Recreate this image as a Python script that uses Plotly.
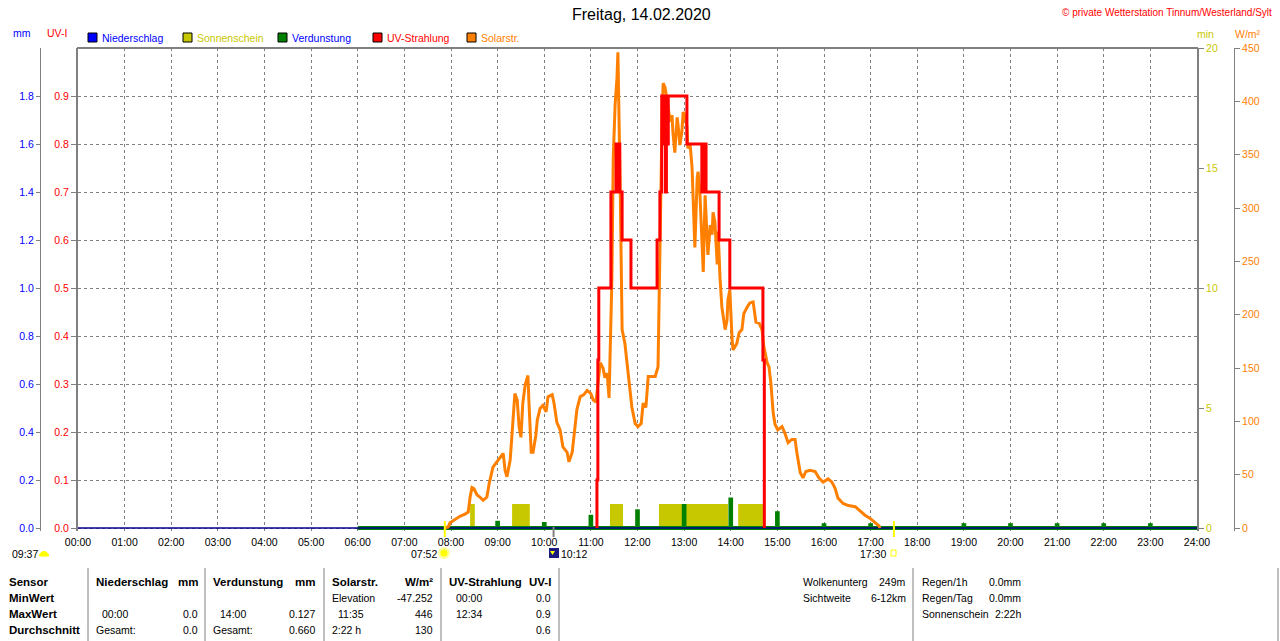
import math
import plotly.graph_objects as go

# ---- data -------------------------------------------------------------
hours = list(range(25))
hour_labels = ["%02d:00" % h for h in hours]

# Sonnenschein (min), sunny intervals in decimal hours
sun_start = [8.41, 9.31, 11.41, 12.46, 14.16]
sun_end = [8.51, 9.69, 11.69, 13.94, 14.69]
sun_min = [1, 1, 1, 1, 1]

# Verdunstung (mm) per hour
evap_hours = [9, 10, 11, 12, 13, 14, 15, 16, 17, 19, 20, 21, 22, 23]
evap_mm = [0.03, 0.025, 0.055, 0.078, 0.1, 0.127, 0.07, 0.02, 0.02, 0.02, 0.02, 0.02, 0.02, 0.02]
evap_period = [6, 24]

# Niederschlag (mm)
rain_t = [0, 24]
rain_mm = [0.0, 0.0]

# Solarstrahlung (W/m2)
solar_t = [7.87, 7.94, 7.98, 8.09, 8.19, 8.30, 8.37, 8.41, 8.45, 8.49, 8.56, 8.62, 8.69, 8.77,
           8.82, 8.90, 8.99, 9.05, 9.12, 9.16, 9.20, 9.27, 9.33, 9.37, 9.42, 9.46, 9.50, 9.54,
           9.59, 9.65, 9.67, 9.72, 9.76, 9.82, 9.85, 9.91, 9.97, 10.04, 10.08, 10.17, 10.21,
           10.27, 10.34, 10.40, 10.49, 10.53, 10.60, 10.64, 10.70, 10.77, 10.85, 10.92, 11.00,
           11.05, 11.11, 11.20, 11.26, 11.30, 11.35, 11.39, 11.45, 11.48, 11.52, 11.56, 11.58,
           11.63, 11.65, 11.67, 11.73, 11.80, 11.88, 11.95, 12.01, 12.08, 12.12, 12.18, 12.23,
           12.31, 12.38, 12.44, 12.48, 12.53, 12.55, 12.59, 12.63, 12.65, 12.70, 12.74, 12.76,
           12.80, 12.85, 12.87, 12.91, 12.95, 12.98, 13.02, 13.06, 13.08, 13.13, 13.17, 13.19,
           13.23, 13.28, 13.30, 13.34, 13.38, 13.41, 13.45, 13.49, 13.51, 13.56, 13.60, 13.62,
           13.66, 13.71, 13.73, 13.77, 13.81, 13.88, 13.92, 13.94, 13.98, 14.03, 14.05, 14.13,
           14.18, 14.24, 14.28, 14.35, 14.41, 14.48, 14.50, 14.54, 14.61, 14.67, 14.71, 14.78,
           14.82, 14.86, 14.91, 14.95, 15.01, 15.10, 15.16, 15.23, 15.31, 15.38, 15.42, 15.49,
           15.55, 15.61, 15.70, 15.81, 15.89, 15.98, 16.09, 16.17, 16.24, 16.30, 16.41, 16.52,
           16.67, 16.77, 16.88, 16.99, 17.09, 17.18, 17.20]
solar_w = [0, 1, 5, 8, 11, 13, 15, 29, 38, 37, 31, 29, 26, 29,
           42, 57, 62, 65, 70, 54, 48, 64, 101, 126, 120, 95, 85, 117,
           134, 143, 120, 71, 71, 87, 101, 112, 115, 109, 123, 125, 117,
           99, 92, 76, 71, 62, 71, 89, 111, 123, 125, 129, 126,
           120, 118, 155, 150, 141, 145, 122, 232, 347, 397, 422, 446,
           315, 218, 186, 173, 142, 113, 98, 95, 98, 117, 113, 142,
           142, 142, 151, 265, 390, 417, 413, 403, 397, 381, 387, 371,
           352, 385, 378, 359, 371, 390, 387, 376, 356, 359, 338, 306,
           263, 328, 334, 312, 275, 240, 312, 265, 256, 284, 275, 296,
           287, 247, 278, 234, 207, 186, 195, 214, 223, 176, 167, 173,
           183, 186, 201, 207, 211, 212, 204, 193, 192, 186, 170, 155,
           151, 136, 108, 97, 92, 95, 89, 80, 83, 83, 70, 52,
           47, 53, 54, 53, 47, 43, 46, 43, 37, 28, 23, 21,
           20, 16, 12, 9, 5, 2, 0]

# UV-Strahlung (UV-I), stepped
uv_t = [11.13, 11.13, 11.15, 11.17, 11.43, 11.54, 11.58, 11.59, 11.62, 11.67, 11.86, 12.42,
        12.48, 12.52, 12.55, 12.57, 12.60, 12.62, 12.64, 12.66, 13.06, 13.38, 13.40, 13.42,
        13.44, 13.47, 13.75, 13.98, 14.69, 14.72]
uv_v = [0, 0.1, 0.35, 0.5, 0.7, 0.8, 0.7, 0.8, 0.7, 0.6, 0.5, 0.6,
        0.7, 0.9, 0.8, 0.9, 0.7, 0.9, 0.8, 0.9, 0.8, 0.7, 0.8, 0.7,
        0.8, 0.7, 0.6, 0.5, 0.35, 0]

# events below the time axis (sunrise, moon, sunset)
event_t = [7.867, 10.2, 17.5]

mm_ticks = [0, 0.2, 0.4, 0.6, 0.8, 1.0, 1.2, 1.4, 1.6, 1.8]
uv_ticks = [0, 0.1, 0.2, 0.3, 0.4, 0.5, 0.6, 0.7, 0.8, 0.9]
min_ticks = [0, 5, 10, 15, 20]
w_ticks = [0, 50, 100, 150, 200, 250, 300, 350, 400, 450]

# ---- layout helpers ---------------------------------------------------
W, H = 1280, 641
TOP, BOT = 48, 531          # plot area (px), 3 px padding under zero
PAD = 3 / 480.0

def px(x):
    return x / W

def py(y):
    return (BOT - y) / float(BOT - TOP)

def rng(top):
    return [-PAD * top, top]

FONT = "Liberation Sans"
FS = 10.5
GRAY = "#808080"
BLUE = "#0000ff"
RED = "#ff0000"
ORANGE = "#ff8000"
YELLOW = "#c8c800"
GREEN = "#008000"
NAVY = "#00008b"

fig = go.Figure()

fig.add_trace(go.Bar(
    x=sun_start, y=sun_min, width=[e - s for s, e in zip(sun_start, sun_end)], offset=0,
    marker=dict(color=YELLOW, line_width=0), yaxis="y", name="Sonnenschein"))

fig.add_trace(go.Bar(
    x=evap_hours, y=evap_mm, width=0.1, marker=dict(color=GREEN, line_width=0),
    yaxis="y2", name="Verdunstung"))
fig.add_trace(go.Scatter(
    x=evap_period, y=[0, 0], mode="lines", line=dict(color=GREEN, width=4),
    yaxis="y2", hoverinfo="skip"))
fig.add_trace(go.Scatter(
    x=rain_t, y=rain_mm, mode="lines", line=dict(color=NAVY, width=1.5),
    yaxis="y2", name="Niederschlag"))

fig.add_trace(go.Scatter(
    x=solar_t, y=solar_w, mode="lines", line=dict(color=ORANGE, width=3),
    yaxis="y3", name="Solarstr."))

fig.add_trace(go.Scatter(
    x=uv_t, y=uv_v, mode="lines", line=dict(color=RED, width=3, shape="hv"),
    yaxis="y4", name="UV-Strahlung"))

tickfont = dict(family=FONT, size=FS)

fig.update_layout(
    width=W, height=H,
    margin=dict(l=0, r=0, t=TOP, b=H - BOT, autoexpand=False),
    paper_bgcolor="white", plot_bgcolor="white",
    showlegend=False, barmode="overlay",
    font=dict(family=FONT, size=FS, color="black"),
    xaxis=dict(
        domain=[px(78), px(1197)], range=[0, 24], automargin=False,
        tickvals=hours, ticktext=hour_labels, tickfont=tickfont,
        ticks="outside", ticklen=1, tickcolor="rgba(0,0,0,0)",
        showgrid=True, gridcolor=GRAY, griddash="3px,3px", gridwidth=1,
        showline=False, zeroline=False),
    yaxis=dict(
        range=rng(20), side="right", anchor="x", automargin=False,
        tickvals=min_ticks, tickfont=dict(family=FONT, size=FS, color=YELLOW),
        ticks="outside", ticklen=5, tickcolor=GRAY,
        showgrid=False, zeroline=False, showline=True, linecolor=GRAY, linewidth=2),
    yaxis2=dict(
        range=rng(2.0), overlaying="y", side="left", anchor="free", position=px(40),
        automargin=False,
        tickvals=mm_ticks, tickformat=".1f", tickfont=dict(family=FONT, size=FS, color=BLUE),
        ticks="outside", ticklen=4, tickcolor=GRAY,
        showgrid=False, zeroline=False, showline=True, linecolor=GRAY, linewidth=1),
    yaxis3=dict(
        range=rng(450), overlaying="y", side="right", anchor="free", position=px(1234),
        automargin=False,
        tickvals=w_ticks, tickfont=dict(family=FONT, size=FS, color=ORANGE),
        ticks="outside", ticklen=5, tickcolor=GRAY,
        showgrid=False, zeroline=False, showline=True, linecolor=GRAY, linewidth=1),
    yaxis4=dict(
        range=rng(1.0), overlaying="y", side="left", anchor="x", automargin=False,
        tickvals=uv_ticks, tickformat=".1f", tickfont=dict(family=FONT, size=FS, color=RED),
        ticks="outside", ticklen=5, tickcolor=GRAY,
        showgrid=True, gridcolor=GRAY, griddash="3px,3px", gridwidth=1,
        zeroline=False, showline=True, linecolor=GRAY, linewidth=2),
)

ann = []
shapes = []

def txt(x, y, s, anchor="left", color="black", size=FS, bold=False):
    ann.append(dict(
        x=px(x), y=py(y), xref="paper", yref="paper", xanchor=anchor, yanchor="middle",
        text="<b>%s</b>" % s if bold else s, showarrow=False, borderpad=0,
        font=dict(family=FONT, size=size, color=color)))

def vline(x, y0, y1, color=GRAY, width=1):
    shapes.append(dict(type="line", xref="paper", yref="paper",
                       x0=px(x), x1=px(x), y0=py(y0), y1=py(y1),
                       line=dict(color=color, width=width)))

# title and header
txt(641, 15, "Freitag, 14.02.2020", anchor="center", size=16)
txt(1273, 12, "© private Wetterstation Tinnum/Westerland/Sylt", anchor="right", color=RED, size=10)
txt(22, 33, "mm", anchor="center", color=BLUE)
txt(57, 33, "UV-I", anchor="center", color=RED)
txt(1205, 34, "min", anchor="center", color=YELLOW)
txt(1248, 34, "W/m²", anchor="center", color=ORANGE)

# top frame
shapes.append(dict(type="line", xref="paper", yref="paper", x0=px(77), x1=px(1198),
                   y0=py(TOP), y1=py(TOP), line=dict(color=GRAY, width=2)))

# legend
legend_items = [("Niederschlag", BLUE, BLUE, 88), ("Sonnenschein", YELLOW, YELLOW, 183),
                ("Verdunstung", GREEN, BLUE, 278), ("UV-Strahlung", RED, RED, 373),
                ("Solarstr.", ORANGE, ORANGE, 467)]
for name, box, col, x0 in legend_items:
    shapes.append(dict(type="rect", xref="paper", yref="paper",
                       x0=px(x0), x1=px(x0 + 9), y0=py(33), y1=py(42),
                       fillcolor=box, line=dict(color="black", width=1)))
    txt(x0 + 13, 38, name, color=col)

# event ticks at the time axis
shapes.append(dict(type="line", xref="x", yref="paper", x0=event_t[0], x1=event_t[0],
                   y0=py(521), y1=py(537), line=dict(color="#ffff00", width=2)))
shapes.append(dict(type="line", xref="x", yref="paper", x0=event_t[1], x1=event_t[1],
                   y0=py(527), y1=py(537), line=dict(color=GRAY, width=2)))
shapes.append(dict(type="line", xref="x", yref="paper", x0=event_t[2], x1=event_t[2],
                   y0=py(521), y1=py(537), line=dict(color="#ffff00", width=2)))

txt(11, 554, "09:37")
pts = [(44 + 4.5 * math.cos(math.pi * k / 8), 556 - 4.5 * math.sin(math.pi * k / 8)) for k in range(9)]
shapes.append(dict(type="path", xref="paper", yref="paper",
                   path="M " + " L ".join("%f,%f" % (px(a), py(b)) for a, b in pts) + " Z",
                   fillcolor="#ffff00", line=dict(color="#ffff00", width=1)))

txt(438, 554, "07:52", anchor="right")
shapes.append(dict(type="circle", xref="paper", yref="paper", x0=px(438), x1=px(450),
                   y0=py(547), y1=py(559), fillcolor="#ffffa0", line=dict(width=0)))
shapes.append(dict(type="circle", xref="paper", yref="paper", x0=px(440.5), x1=px(447.5),
                   y0=py(549.5), y1=py(556.5), fillcolor="#ffff00", line=dict(width=0)))

shapes.append(dict(type="rect", xref="paper", yref="paper", x0=px(549), x1=px(559),
                   y0=py(548), y1=py(558), fillcolor="#1a1a80", line=dict(width=0)))
shapes.append(dict(type="path", xref="paper", yref="paper",
                   path="M %f,%f L %f,%f L %f,%f Z" % (px(550), py(551), px(555), py(551), px(552.5), py(555)),
                   fillcolor="#ffff00", line=dict(width=0)))
txt(560, 554, "10:12")

txt(887, 554, "17:30", anchor="right")
shapes.append(dict(type="rect", xref="paper", yref="paper", x0=px(891), x1=px(896),
                   y0=py(550), y1=py(556), fillcolor="white", line=dict(color="#ffff00", width=1)))

# statistics table
rows = [582, 598, 614, 630]
HB = 11.5
for label, y in zip(["Sensor", "MinWert", "MaxWert", "Durchschnitt"], rows):
    txt(8, y, label, bold=True, size=HB)

for s, x in [("Niederschlag", 95), ("Verdunstung", 212), ("Solarstr.", 331), ("UV-Strahlung", 448)]:
    txt(x, rows[0], s, bold=True, size=HB)
for s, x in [("mm", 199), ("mm", 316), ("W/m²", 434), ("UV-I", 552)]:
    txt(x, rows[0], s, anchor="right", bold=True, size=HB)

left_cells = [("Elevation", 331, 1), ("00:00", 455, 1),
              ("00:00", 101, 2), ("14:00", 219, 2), ("11:35", 337, 2), ("12:34", 455, 2),
              ("Gesamt:", 95, 3), ("Gesamt:", 212, 3), ("2:22 h", 331, 3)]
right_cells = [("-47.252", 434, 1), ("0.0", 552, 1),
               ("0.0", 199, 2), ("0.127", 316, 2), ("446", 434, 2), ("0.9", 552, 2),
               ("0.0", 199, 3), ("0.660", 316, 3), ("130", 434, 3), ("0.6", 552, 3)]
for s, x, r in left_cells:
    txt(x, rows[r], s)
for s, x, r in right_cells:
    txt(x, rows[r], s, anchor="right")

for s, v, y in [("Wolkenunterg", "249m", 582), ("Sichtweite", "6-12km", 598)]:
    txt(802, y, s)
    txt(907, y, v, anchor="right")
for s, v, y in [("Regen/1h", "0.0mm", 582), ("Regen/Tag", "0.0mm", 598), ("Sonnenschein", "2:22h", 614)]:
    txt(921, y, s)
    txt(1022, y, v, anchor="right")

for x in [88, 205, 324, 441, 559, 913, 1278]:
    vline(x, 568, 641)

fig.update_layout(annotations=ann, shapes=shapes)

fig.write_html(
    "out.html",
    config={"displayModeBar": False},
    post_script="document.body.style.margin='0';document.body.style.overflow='hidden';",
)
